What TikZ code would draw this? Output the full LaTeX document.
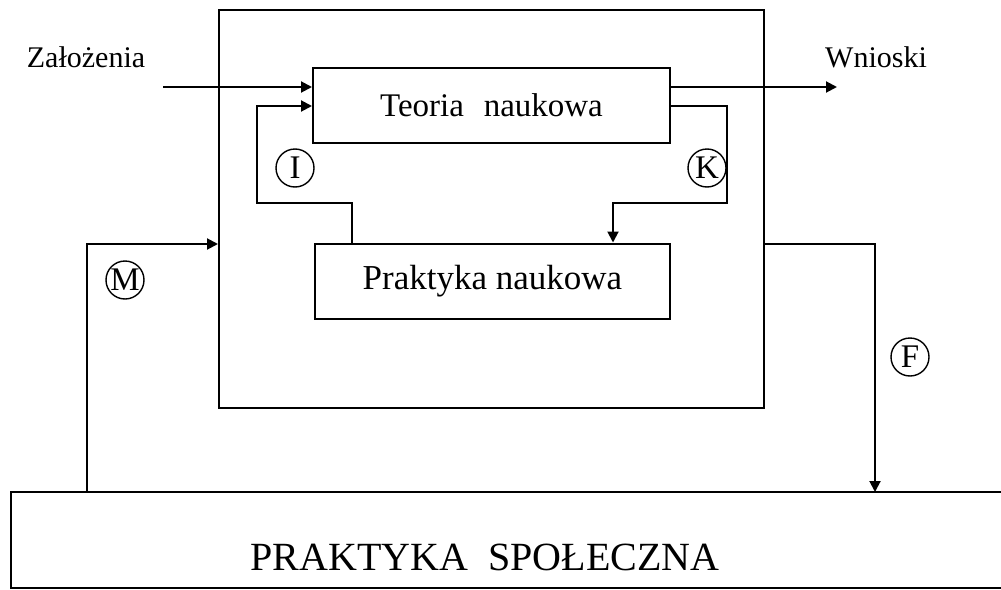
\documentclass[tikz,border=0pt]{standalone}
\usepackage{fontspec}
\setmainfont{Liberation Serif}
\usetikzlibrary{arrows.meta}
\begin{document}
\begin{tikzpicture}[x=0.5pt,y=-0.5pt,
  line width=1pt,
  flow/.style={-{Triangle[length=5.5pt,width=5.5pt]}},
  block/.style={draw, rectangle, inner sep=0pt, minimum height=37.5pt, font=\fontsize{16.5}{18}\selectfont},
  tag/.style={draw, circle, line width=0.7pt, minimum size=19pt, inner sep=0pt, font=\fontsize{16.5}{17}\selectfont},
  lbl/.style={font=\fontsize{15}{16}\selectfont}
]
\useasboundingbox (0,0) rectangle (1001,589);

% frame of the scientific system
\node[draw, rectangle, minimum width=272.5pt, minimum height=199pt] (outer) at (491.5,209) {};
\node[block, minimum width=178.5pt] (teoria) at (491.5,105.5) {Teoria\hspace{0.6em}naukowa};
\node[block, minimum width=177.5pt, font=\fontsize{17.5}{19}\selectfont] (praktyka) at (492.5,281) {Praktyka naukowa};

% social practice: open box running off the right edge
\node[minimum width=495.5pt, minimum height=47pt, inner sep=0pt] (spol) at (507.5,540) {};
\draw (spol.north east) -- (spol.north west) -- (spol.south west) -- (spol.south east);
\node[font=\fontsize{20}{22}\selectfont] (spoltxt) at (485,557) {PRAKTYKA\hspace{0.5em}SPOŁECZNA};

% inputs and outputs
\node[lbl] (zal) at (86,57) {Założenia};
\node[lbl] (wn) at (876,57) {Wnioski};
\coordinate (zin) at (163,87);
\draw[flow] (zin) -- (zin -| teoria.west);
\coordinate (wout) at (837,87);
\draw[flow] (teoria.east |- wout) -- (wout);

% loop I: practice -> theory
\coordinate (iA) at (352,203);
\coordinate (iB) at (257,203);
\coordinate (iC) at (257,106);
\draw[flow] (praktyka.north -| iA) -- (iA) -- (iB) -- (iC) -- (iC -| teoria.west);

% loop K: theory -> practice
\coordinate (kA) at (727,106);
\coordinate (kB) at (727,203);
\coordinate (kC) at (613,203);
\draw[flow] (teoria.east |- kA) -- (kA) -- (kB) -- (kC) -- (kC |- praktyka.north);

% loop M: social practice -> system
\coordinate (mA) at (87,244);
\draw[flow] (spol.north -| mA) -- (mA) -- (mA -| outer.west);

% loop F: system -> social practice
\coordinate (fA) at (875,244);
\draw[flow] (outer.east |- fA) -- (fA) -- (fA |- spol.north);

% circled markers
\node[tag] (tI) at (295,168) {I};
\node[tag] (tK) at (707,168) {K};
\node[tag] (tM) at (125,280) {M};
\node[tag] (tF) at (910,357) {F};
\end{tikzpicture}
\end{document}
